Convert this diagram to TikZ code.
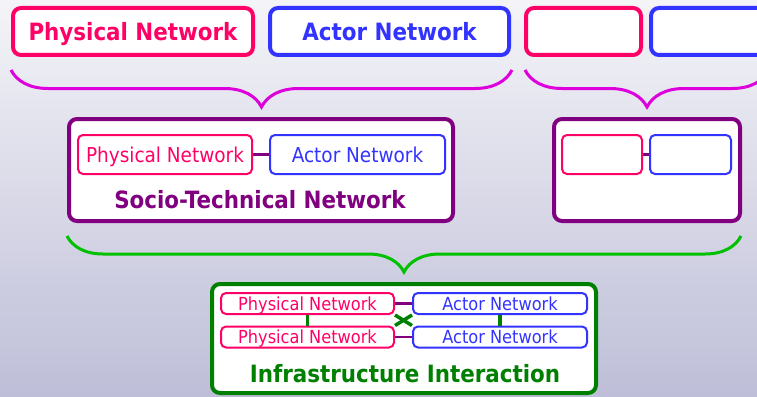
\documentclass[tikz,border=0pt]{standalone}
\usepackage{fontspec}
\setmainfont[FakeStretch=0.9]{DejaVu Sans}
\usepackage{tikz}
\usetikzlibrary{decorations.pathreplacing}
\definecolor{physcol}{HTML}{FF0066}
\definecolor{actcol}{HTML}{3333FF}
\definecolor{stncol}{HTML}{800080}
\definecolor{infcol}{HTML}{008000}
\definecolor{brcmag}{HTML}{DD00DD}
\definecolor{brcgrn}{HTML}{00C000}
\definecolor{bgtop}{HTML}{F4F4F8}
\definecolor{bgbot}{HTML}{BEBED8}
\tikzset{
  topbox/.style={rectangle, rounded corners=8pt, draw, line width=4pt, fill=white, minimum height=47pt, inner sep=0pt, text depth=0pt, font=\fontsize{23.8}{28}\selectfont\bfseries},
  netbox/.style={rectangle, rounded corners=5pt, draw, line width=2pt, fill=white, inner sep=0pt, text depth=0pt},
  groupbox/.style={rectangle, rounded corners=8pt, draw, line width=4pt, fill=white, inner sep=0pt},
  grouplabel/.style={text depth=0pt, font=\fontsize{23.8}{28}\selectfont\bfseries},
  bigbrace/.style={decorate, decoration={brace, mirror, amplitude=36pt}, line width=3pt},
  link/.style={line width=3.5pt}
}
\begin{document}
\begin{tikzpicture}[x=1pt, y=-1pt]
\useasboundingbox (0,0) rectangle (757,396);
\clip (0,0) rectangle (757,396);
\fill[top color=bgtop, bottom color=bgbot] (0,0) rectangle (757,396);

% top row
\node[topbox, draw=physcol, text=physcol, minimum width=240pt] (phys) at (133,31.5) {Physical Network};
\node[topbox, draw=actcol, text=actcol, minimum width=239pt] (act) at (389.5,31.5) {Actor Network};
\node[topbox, draw=physcol, minimum width=115pt] (physb) at (583.5,31.5) {};
\node[topbox, draw=actcol, minimum width=116pt] (actb) at (709,31.5) {};
\coordinate (bra) at (11,70);
\coordinate (brb) at (512,70);
\coordinate (brc) at (525,70);
\coordinate (brd) at (769,70);
\draw[bigbrace, brcmag, decoration={amplitude=37pt}] (bra) -- (brb);
\draw[bigbrace, brcmag, decoration={amplitude=37pt}] (brc) -- (brd);

% socio-technical networks
\node[groupbox, draw=stncol, minimum width=384pt, minimum height=102pt] (stn) at (261,170) {};
\node[netbox, draw=physcol, text=physcol, minimum width=174pt, minimum height=39pt, font=\fontsize{20.5}{24}\selectfont] (stnphys) at (165,154.5) {Physical Network};
\node[netbox, draw=actcol, text=actcol, minimum width=175pt, minimum height=39pt, font=\fontsize{20.5}{24}\selectfont] (stnact) at (357.5,154.5) {Actor Network};
\draw[stncol, line width=2.5pt] (stnphys) -- (stnact);
\node[grouplabel, text=stncol] (stnlbl) at (260,199) {Socio-Technical Network};
\node[groupbox, draw=stncol, minimum width=186pt, minimum height=102pt] (stnb) at (647,170) {};
\node[netbox, draw=physcol, minimum width=80pt, minimum height=39pt] (stnbphys) at (602,154.5) {};
\node[netbox, draw=actcol, minimum width=81pt, minimum height=39pt] (stnbact) at (690.5,154.5) {};
\draw[stncol, line width=2.5pt] (stnbphys) -- (stnbact);
\coordinate (bre) at (67,236);
\coordinate (brf) at (741,236);
\draw[bigbrace, brcgrn] (bre) -- (brf);

% infrastructure interaction
\node[groupbox, draw=infcol, minimum width=384pt, minimum height=109pt] (inf) at (404,338.5) {};
\node[netbox, draw=physcol, text=physcol, minimum width=173pt, minimum height=21pt, font=\fontsize{18}{21}\selectfont] (infphysa) at (307.5,303.5) {Physical Network};
\node[netbox, draw=physcol, text=physcol, minimum width=173pt, minimum height=21pt, font=\fontsize{18}{21}\selectfont] (infphysb) at (307.5,337) {Physical Network};
\node[netbox, draw=actcol, text=actcol, minimum width=174pt, minimum height=21pt, font=\fontsize{18}{21}\selectfont] (infacta) at (500,303.5) {Actor Network};
\node[netbox, draw=actcol, text=actcol, minimum width=174pt, minimum height=21pt, font=\fontsize{18}{21}\selectfont] (infactb) at (500,337) {Actor Network};
\draw[stncol, line width=2.5pt] (infphysa) -- (infacta);
\draw[stncol, line width=2.5pt] (infphysb) -- (infactb);
\draw[infcol, link] (infphysa) -- (infphysb);
\draw[infcol, link] (infacta) -- (infactb);
\draw[infcol, link] (infphysa.south east) -- (infactb.north west);
\draw[infcol, link] (infphysb.north east) -- (infacta.south west);
\node[grouplabel, text=infcol] (inflbl) at (405,373) {Infrastructure Interaction};
\end{tikzpicture}
\end{document}
